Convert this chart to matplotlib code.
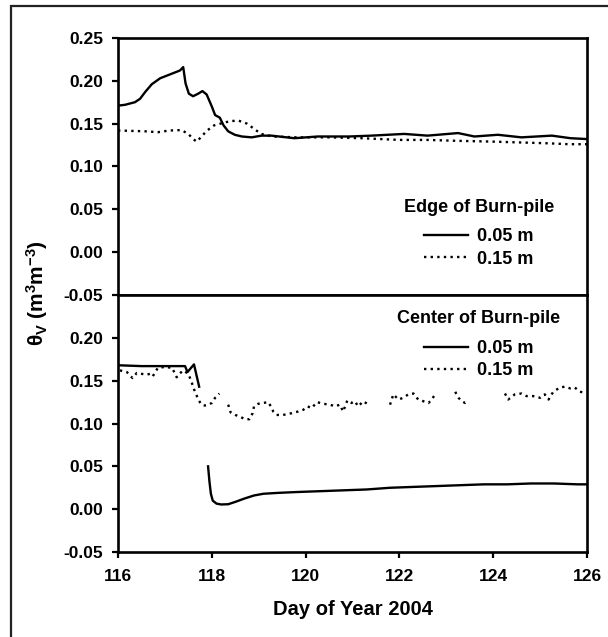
"""
Soil water content at the edge and center of a burn-pile
"""
import numpy as np
import matplotlib
matplotlib.use("Agg")
import matplotlib.pyplot as plt
from matplotlib.patches import Rectangle

# =============================================================================
# DATA
# =============================================================================
nan = np.nan

# Edge of burn-pile, 0.05 m
edge_05_day = [116.0, 116.15, 116.36, 116.47, 116.58, 116.72, 116.9, 117.04, 117.18, 117.32,
               117.39, 117.44, 117.51, 117.6, 117.71, 117.8, 117.89, 118.0, 118.07, 118.17,
               118.25, 118.35, 118.49, 118.64, 118.85, 119.06, 119.27, 119.76, 120.26, 120.93,
               121.4, 122.1, 122.6, 123.25, 123.6, 124.1, 124.6, 125.25, 125.65, 126.0]
edge_05_vwc = [0.171, 0.172, 0.175, 0.179, 0.187, 0.196, 0.203, 0.206, 0.209, 0.212,
               0.216, 0.197, 0.185, 0.182, 0.185, 0.188, 0.184, 0.170, 0.160, 0.157,
               0.148, 0.141, 0.137, 0.135, 0.134, 0.136, 0.136, 0.133, 0.135, 0.135,
               0.136, 0.138, 0.136, 0.139, 0.135, 0.137, 0.134, 0.136, 0.133, 0.132]

# Edge of burn-pile, 0.15 m
edge_15_day = [116.0, 116.3, 116.6, 116.85, 117.1, 117.35, 117.5, 117.6, 117.68, 117.78,
               117.9, 118.05, 118.25, 118.4, 118.57, 118.75, 118.9, 119.05, 119.3, 119.8,
               120.5, 121.2, 122.0, 122.6, 123.2, 124.0, 124.6, 125.2, 125.6, 126.0]
edge_15_vwc = [0.142, 0.1415, 0.141, 0.140, 0.142, 0.1425, 0.138, 0.132, 0.129, 0.135,
               0.142, 0.148, 0.151, 0.153, 0.1535, 0.150, 0.144, 0.138, 0.135, 0.134,
               0.134, 0.133, 0.131, 0.131, 0.130, 0.129, 0.128, 0.127, 0.126, 0.126]

# Center of burn-pile, 0.05 m (sensor gap around day 117.8)
center_05_day = [116.0, 116.5, 117.0, 117.43, 117.48, 117.62, 117.73, nan,
                 117.92, 117.95, 117.98, 118.02, 118.1, 118.2, 118.35, 118.5, 118.7, 118.9,
                 119.1, 119.4, 119.8, 120.3, 120.8, 121.3, 121.8, 122.3, 122.8, 123.3,
                 123.8, 124.3, 124.8, 125.3, 125.8, 126.0]
center_05_vwc = [0.168, 0.167, 0.167, 0.167, 0.160, 0.169, 0.143, nan,
                 0.050, 0.032, 0.018, 0.010, 0.0065, 0.0055, 0.0058, 0.0085, 0.0125, 0.016,
                 0.018, 0.019, 0.020, 0.021, 0.022, 0.023, 0.025, 0.026, 0.027, 0.028,
                 0.029, 0.029, 0.030, 0.030, 0.029, 0.029]

# Center of burn-pile, 0.15 m (several gaps)
center_15_day = [116.04, 116.19, 116.31, 116.4, 116.5, 116.61, 116.68, 116.74, 116.85, 117.0,
                 117.15, 117.18, 117.25, 117.31, 117.39, 117.5, 117.55, 117.59, 117.62, 117.66,
                 117.71, 117.78, 117.85, 117.93, 118.0, 118.07, 118.16, nan,
                 118.35, 118.4, 118.5, 118.6, 118.71, 118.8, 118.87, 118.9, 118.99, 119.1,
                 119.2, 119.26, 119.31, 119.38, 119.52, 119.7, 119.84, 119.95, 120.04, 120.13,
                 120.24, 120.38, 120.52, 120.63, 120.73, 120.8, 120.89, 120.98, 121.05, 121.12,
                 121.23, 121.34, nan,
                 121.8, 121.87, 121.98, 122.08, 122.19, 122.3, 122.4, 122.51, 122.62, 122.69,
                 122.76, nan,
                 123.19, 123.26, 123.33, 123.4, 123.47, nan,
                 124.25, 124.32, 124.46, 124.6, 124.71, 124.85, 125.0, 125.1, 125.18, 125.28,
                 125.42, 125.53, 125.64, 125.74, 125.85, 125.96]
center_15_vwc = [0.162, 0.160, 0.153, 0.159, 0.158, 0.157, 0.158, 0.155, 0.165, 0.166,
                 0.165, 0.162, 0.154, 0.158, 0.162, 0.158, 0.151, 0.145, 0.140, 0.135,
                 0.128, 0.122, 0.121, 0.122, 0.124, 0.130, 0.135, nan,
                 0.122, 0.113, 0.110, 0.108, 0.105, 0.105, 0.112, 0.120, 0.123, 0.124,
                 0.125, 0.120, 0.114, 0.110, 0.110, 0.112, 0.114, 0.116, 0.120, 0.118,
                 0.125, 0.123, 0.122, 0.120, 0.122, 0.114, 0.127, 0.124, 0.126, 0.120,
                 0.126, 0.122, nan,
                 0.122, 0.134, 0.128, 0.130, 0.134, 0.135, 0.128, 0.126, 0.124, 0.128,
                 0.134, nan,
                 0.137, 0.130, 0.126, 0.124, 0.127, nan,
                 0.135, 0.128, 0.134, 0.135, 0.132, 0.132, 0.130, 0.134, 0.128, 0.137,
                 0.142, 0.143, 0.141, 0.142, 0.137, 0.136]

x_ticks = [116, 118, 120, 122, 124, 126]
y_ticks_top = [-0.05, 0.00, 0.05, 0.10, 0.15, 0.20, 0.25]
y_ticks_bottom = [-0.05, 0.00, 0.05, 0.10, 0.15, 0.20]
depth_labels = ['0.05 m', '0.15 m']

# =============================================================================
# STYLE
# =============================================================================
plt.rcParams['font.family'] = ['Liberation Sans', 'DejaVu Sans']
plt.rcParams['font.weight'] = 'bold'
plt.rcParams['font.size'] = 12
plt.rcParams['mathtext.fontset'] = 'custom'
plt.rcParams['mathtext.rm'] = 'Liberation Sans:bold'
plt.rcParams['mathtext.it'] = 'Liberation Sans:bold'
plt.rcParams['mathtext.bf'] = 'Liberation Sans:bold'
plt.rcParams['mathtext.default'] = 'rm'

solid = dict(color='black', lw=1.7, linestyle='-')
dotted = dict(color='black', lw=1.7, linestyle=(0, (1, 1.8)))

fig = plt.figure(figsize=(6.08, 6.37), dpi=100)
ax_top = fig.add_axes([0.1941, 0.5369, 0.7714, 0.4035])
ax_bot = fig.add_axes([0.1941, 0.1334, 0.7714, 0.4035])

# outer frame (cut off on the right and bottom in the original)
fig.patches.append(Rectangle((11 / 608, -0.2), 1.2, 1.2 - 6 / 637, transform=fig.transFigure,
                             fill=False, lw=1.6, edgecolor='#222222'))


def add_legend(ax, title, y_anchor):
    leg = ax.legend(title=title, loc='upper center', bbox_to_anchor=(0.769, y_anchor),
                    frameon=False, handlelength=2.4, handletextpad=0.5, labelspacing=0.3,
                    borderpad=0, fontsize=13)
    leg.get_title().set_fontweight('bold')
    leg.get_title().set_fontsize(13)
    leg._legend_box.sep = 9
    return leg


# =============================================================================
# Top panel: edge of burn-pile
# =============================================================================
ax_top.plot(edge_05_day, edge_05_vwc, label=depth_labels[0], **solid)
ax_top.plot(edge_15_day, edge_15_vwc, label=depth_labels[1], **dotted)
ax_top.set_ylim(-0.05, 0.25)
ax_top.set_yticks(y_ticks_top)
ax_top.set_yticklabels(['%.2f' % v for v in y_ticks_top])
ax_top.set_xlim(116, 126)
ax_top.set_xticks([])
add_legend(ax_top, 'Edge of Burn-pile', 0.41)

# =============================================================================
# Bottom panel: center of burn-pile
# =============================================================================
ax_bot.plot(center_05_day, center_05_vwc, label=depth_labels[0], **solid)
ax_bot.plot(center_15_day, center_15_vwc, label=depth_labels[1], **dotted)
ax_bot.set_ylim(-0.05, 0.25)
ax_bot.set_yticks(y_ticks_bottom)
ax_bot.set_yticklabels(['%.2f' % v for v in y_ticks_bottom])
ax_bot.set_xlim(116, 126)
ax_bot.set_xticks(x_ticks)
ax_bot.set_xlabel('Day of Year 2004', fontsize=14.5, fontweight='bold', labelpad=12)
add_legend(ax_bot, 'Center of Burn-pile', 0.975)

for ax in (ax_top, ax_bot):
    for sp in ax.spines.values():
        sp.set_linewidth(1.9)
    ax.tick_params(axis='y', direction='out', length=4, width=1.6, labelsize=12.5, pad=6.5)
    ax.tick_params(axis='x', direction='out', length=4, width=1.6, labelsize=12.5, pad=8)
    for lab in ax.get_yticklabels() + ax.get_xticklabels():
        lab.set_fontweight('bold')

fig.text(0.061, 0.54, r'$\theta_V$ (m$^3$m$^{-3}$)', rotation=90, ha='center', va='center',
         fontsize=15, fontweight='bold')

fig.savefig('out.png', dpi=100)
